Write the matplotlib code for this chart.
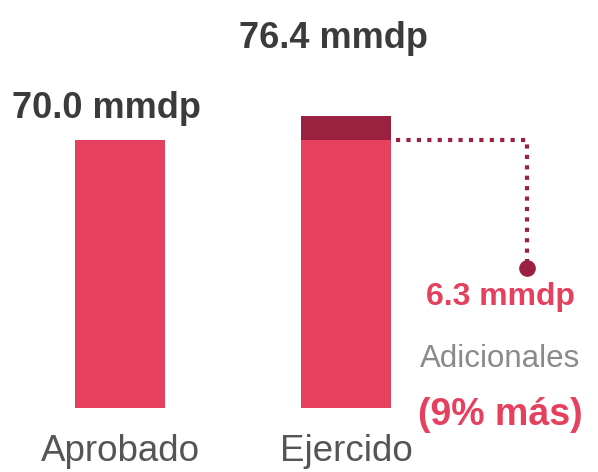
import matplotlib
matplotlib.use("Agg")
import matplotlib.pyplot as plt

categories = ["Aprobado", "Ejercido"]
base_values = [70.0, 70.0]
extra_values = [0.0, 6.3]
total_labels = ["70.0 mmdp", "76.4 mmdp"]
extra_label = "6.3 mmdp"
extra_text = "Adicionales"
pct_text = "(9% más)"

PINK = "#E5405E"
DARK = "#9A2240"
TXT = "#3B3B3B"
GRAY = "#555555"

plt.rcParams['font.family'] = ['Liberation Sans', 'DejaVu Sans']

fig = plt.figure(figsize=(5.98, 4.72), dpi=100)
ax = fig.add_axes([0, 64 / 472, 1, 408 / 472])
x = [0, 1]
w = 0.398
ax.bar(x, base_values, width=w, color=PINK, zorder=2)
ax.bar(x, extra_values, width=w, bottom=base_values, color=DARK, zorder=2)
ax.set_xlim(-0.531, 2.115)
ax.set_ylim(0, 106.6)
for s in ax.spines.values():
    s.set_visible(False)
ax.set_yticks([])
ax.set_xticks(x)
ax.set_xticklabels(categories, fontsize=26.5, color=GRAY)
ax.tick_params(axis='x', length=0, pad=19)

# totals
offsets = [(-10, 16), (-9, 49)]
for xi, b, e, lab, off in zip(x, base_values, extra_values, total_labels, offsets):
    ax.annotate(lab, (xi, b + e), xytext=off, textcoords='offset points',
                ha='center', va='baseline', fontsize=26, fontweight='bold', color=TXT)

# connector
x_end = 1.80
y_end = 36.6
x_start = 1 + w / 2 + 0.02
ax.plot([x_start, x_end, x_end], [base_values[1], base_values[1], y_end],
        color=DARK, lw=3, linestyle=(0, (1, 1.5)), dash_capstyle='butt', zorder=3)
ax.plot([x_end], [y_end], 'o', color=DARK, ms=11, zorder=4)

tx = -19
ax.annotate(extra_label, (x_end, y_end), xytext=(tx, -27), textcoords='offset points',
            ha='center', va='baseline', fontsize=23, fontweight='bold', color=PINK)
ax.annotate(extra_text, (x_end, y_end), xytext=(tx, -71), textcoords='offset points',
            ha='center', va='baseline', fontsize=22.5, color="#8A8A8A")
ax.annotate(pct_text, (x_end, y_end), xytext=(tx, -113), textcoords='offset points',
            ha='center', va='baseline', fontsize=27, fontweight='bold', color=PINK)

fig.savefig("out.png", dpi=100)
